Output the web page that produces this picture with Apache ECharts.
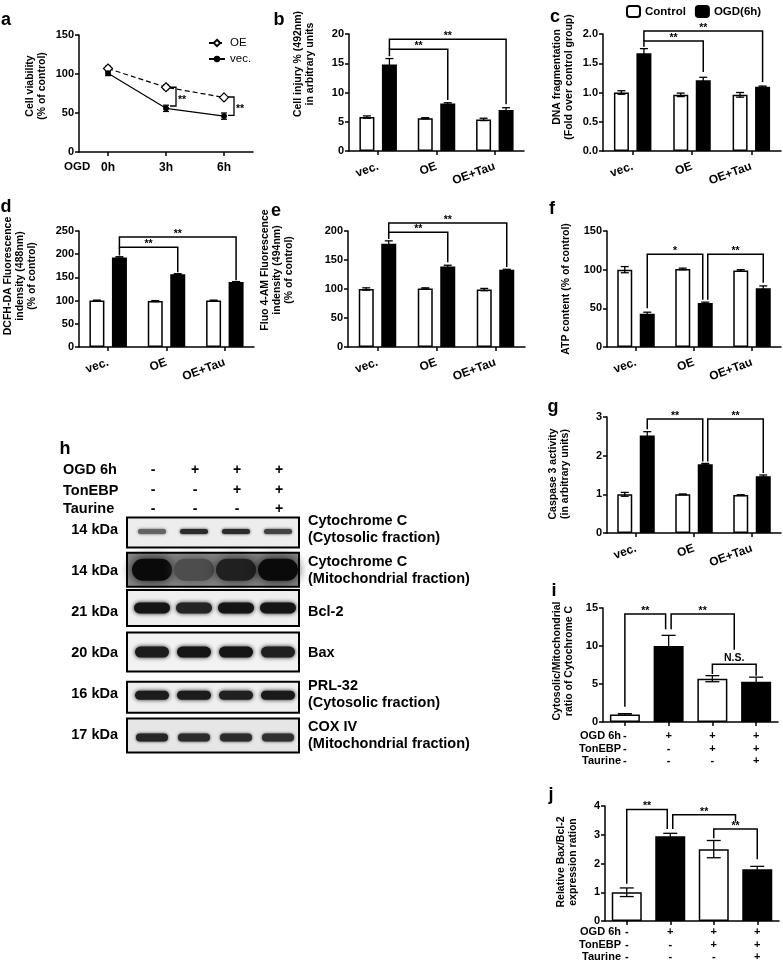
<!DOCTYPE html>
<html><head><meta charset="utf-8">
<script src="https://cdn.jsdelivr.net/npm/echarts/dist/echarts.min.js"></script>
<style>html,body{margin:0;padding:0;background:#fff}#c{width:783px;height:964px}</style>
</head><body><div id="c"></div>
<script>
// ---------------- DATA ----------------
// panel a
const aTimes = ['0h', '3h', '6h'];
const aOE = [107, 83, 70];
const aOEErr = [3, 3, 2];
const aVec = [101, 56, 46];
const aVecErr = [3, 4, 4];
const aSig = [[1, 83, 59, '**'], [2, 70.5, 47, '**']];

// panels b-g
const groups = ['vec.', 'OE', 'OE+Tau'];
const bCtrl = [5.8, 5.6, 5.4], bCtrlErr = [0.2, 0.1, 0.2];
const bOGD = [14.8, 8.1, 7.0], bOGDErr = [1.0, 0.15, 0.4];
const bSig = [[0, 'O', 1, 'O', 17.4, 16.2, 8.7, '**'], [0, 'O', 2, 'O', 19.1, 17.4, 8.0, '**']];

const cCtrl = [1.0, 0.96, 0.96], cCtrlErr = [0.03, 0.03, 0.04];
const cOGD = [1.67, 1.21, 1.10], cOGDErr = [0.08, 0.05, 0.01];
const cSig = [[0, 'O', 1, 'O', 1.88, 1.78, 1.35, '**'], [0, 'O', 2, 'O', 2.05, 1.88, 1.18, '**']];

const dCtrl = [100, 99, 100], dCtrlErr = [1, 1, 1];
const dOGD = [193, 157, 140], dOGDErr = [1.5, 1, 1];
const dSig = [[0, 'O', 1, 'O', 215, 197, 161, '**'], [0, 'O', 2, 'O', 237, 215, 144, '**']];

const eCtrl = [100, 101, 99], eCtrlErr = [2, 1, 2];
const eOGD = [178, 139, 133], eOGDErr = [5, 2, 1];
const eSig = [[0, 'O', 1, 'O', 198, 186, 146, '**'], [0, 'O', 2, 'O', 214, 198, 138, '**']];

const fCtrl = [100, 101, 99], fCtrlErr = [4, 1, 1];
const fOGD = [43, 57, 76], fOGDErr = [2, 1, 3];
const fSig = [[0, 'O', 1, 'OL', 120, 50, 61, '*'], [1, 'OR', 2, 'O', 120, 61, 83, '**']];

const gCtrl = [1.0, 1.0, 0.98], gCtrlErr = [0.05, 0.01, 0.01];
const gOGD = [2.52, 1.78, 1.47], gOGDErr = [0.1, 0.02, 0.03];
const gSig = [[0, 'O', 1, 'OL', 2.95, 2.68, 1.85, '**'], [1, 'OR', 2, 'O', 2.95, 1.85, 1.55, '**']];

// panels i, j  (rows: OGD 6h / TonEBP / Taurine)
const ijCats = ['-\n-\n-', '+\n-\n-', '+\n+\n-', '+\n+\n+'];
const iVals = [1.0, 10.0, 5.7, 5.3], iErr = [0.1, 1.4, 0.4, 0.6];
const iSig = [[0, 'M', 1, 'ML', 14.2, 2.0, 12.2, '**'], [1, 'MR', 2, 'H', 14.2, 12.2, 9.5, '**'], [2, 'M', 3, 'M', 7.6, 6.3, 6.1, 'N.S.']];
const jVals = [1.0, 2.95, 2.5, 1.8], jErr = [0.15, 0.1, 0.3, 0.1];
const jSig = [[0, 'M', 1, 'ML', 3.88, 1.3, 3.2, '**'], [1, 'MR', 2, 'H', 3.7, 3.2, 3.45, '**'], [2, 'M', 3, 'M', 3.2, 2.88, 2.15, '**']];

// panel h (western blot)
const blotLanes = ['-\n-\n-', '+\n-\n-', '+\n+\n-', '+\n+\n+'];
const blotKDa = ['14 kDa', '14 kDa', '21 kDa', '20 kDa', '16 kDa', '17 kDa'];
const blotNames = ['Cytochrome C\n(Cytosolic fraction)', 'Cytochrome C\n(Mitochondrial fraction)', 'Bcl-2', 'Bax', 'PRL-32\n(Cytosolic fraction)', 'COX IV\n(Mitochondrial fraction)'];
const blotIntensity = [
  [0.6, 0.85, 0.85, 0.75],
  [1.0, 0.7, 0.9, 1.0],
  [0.95, 0.88, 0.95, 0.95],
  [0.92, 0.95, 0.95, 0.9],
  [0.92, 0.92, 0.9, 0.93],
  [0.88, 0.85, 0.85, 0.83]
];

// ---------------- STYLE / LAYOUT ----------------
const FONT = '"Liberation Sans", Arial, Helvetica, sans-serif';
const L = {
  a: {left: 79, top: 35, width: 174, height: 117},
  b: {left: 349, top: 34, width: 175, height: 117},
  c: {left: 603, top: 34, width: 178, height: 117},
  d: {left: 79, top: 231, width: 175, height: 116},
  e: {left: 348, top: 231, width: 177, height: 116},
  f: {left: 607, top: 231, width: 174, height: 116},
  g: {left: 607, top: 417, width: 174, height: 116},
  i: {left: 603, top: 608, width: 175, height: 114},
  j: {left: 605, top: 806, width: 174, height: 115},
  h: {left: 132, top: 509, width: 168, height: 247}
};
const FRAME_H = [30, 34, 36, 39, 31, 34];
const FRAME_DY = [3, -1, -4, -1, 3, 0];
const BAND_W = [28, 40, 36, 34, 34, 32];
const BAND_H = [5, 22, 11, 11, 9, 8];
const BAND_DY = [-1, 0, 0, 0, -2, 2];
const BAND_BLUR = [3, 12, 4, 4, 4, 3];
const BLOT_BG = ['#ededed', '#8a8a8a', '#efefef', '#f2f2f2', '#efefef', '#e6e6e6'];
const BW = 15, BGAP = '50%', OFF = BW * 1.5 / 2;
const AX = {color: '#000', width: 1.5};

const grids = [], xAxes = [], yAxes = [], series = [];

function addGrid(key) {
  grids.push(Object.assign({containLabel: false, outerBoundsMode: 'none'}, L[key]));
  return grids.length - 1;
}
function addX(gi, data, opts) {
  opts = opts || {};
  xAxes.push({
    gridIndex: gi, type: 'category', data: data, boundaryGap: true,
    axisLine: {show: true, onZero: false, lineStyle: AX},
    axisTick: {show: true, alignWithLabel: true, length: 4, lineStyle: AX},
    axisLabel: {color: '#000', fontFamily: FONT, fontWeight: 'bold', fontSize: opts.fontSize || 12, interval: 0,
      margin: opts.margin != null ? opts.margin : 15, rotate: opts.rotate != null ? opts.rotate : 20,
      lineHeight: opts.lineHeight || 14},
    splitLine: {show: false}
  });
  return xAxes.length - 1;
}
function addY(gi, max, interval, fmt) {
  yAxes.push({
    gridIndex: gi, type: 'value', min: 0, max: max, interval: interval,
    axisLine: {show: true, lineStyle: AX},
    axisTick: {show: true, length: 4, lineStyle: AX},
    axisLabel: {color: '#000', fontFamily: FONT, fontWeight: 'bold', fontSize: 11, margin: 5,
      formatter: fmt || null},
    splitLine: {show: false}
  });
  return yAxes.length - 1;
}

function errRender(off, cap) {
  return function (params, api) {
    const c = api.value(0), v = api.value(1), e = api.value(2), s = api.value(3);
    const x = api.coord([c, v])[0] + s * off;
    const yT = api.coord([c, v + e])[1], yB = api.coord([c, v - e])[1];
    const st = {stroke: '#000', lineWidth: 1.3};
    return {type: 'group', children: [
      {type: 'line', shape: {x1: x, y1: yT, x2: x, y2: yB}, style: st},
      {type: 'line', shape: {x1: x - cap / 2, y1: yT, x2: x + cap / 2, y2: yT}, style: st},
      {type: 'line', shape: {x1: x - cap / 2, y1: yB, x2: x + cap / 2, y2: yB}, style: st}
    ]};
  };
}
function slotX(api, cat, slot, off) {
  const c = api.coord([cat, 0])[0];
  const band = api.size([1, 0])[0];
  return {C: c - off, O: c + off, OL: c + off - 2.5, OR: c + off + 2.5, M: c, ML: c - 3, MR: c + 2.5, H: c + band / 2}[slot];
}
function sigRender(spec, off) {
  return function (params, api) {
    const s = spec[params.dataIndex];
    const x1 = slotX(api, s[0], s[1], off), x2 = slotX(api, s[2], s[3], off);
    const yT = api.coord([s[0], s[4]])[1], y1 = api.coord([s[0], s[5]])[1], y2 = api.coord([s[0], s[6]])[1];
    const star = s[7].indexOf('*') >= 0;
    return {type: 'group', children: [
      {type: 'polyline', shape: {points: [[x1, y1], [x1, yT], [x2, yT], [x2, y2]]}, style: {stroke: '#000', lineWidth: 1.5, fill: 'none'}},
      {type: 'text', x: (x1 + x2) / 2, y: yT - (star ? 3 : 6), style: {text: s[7], align: 'center', verticalAlign: 'middle', font: 'bold 10.5px ' + FONT, fill: '#000'}}
    ]};
  };
}

function barPanel(key, ctrl, ctrlErr, ogd, ogdErr, sig, max, interval, fmt) {
  const gi = addGrid(key);
  const xi = addX(gi, groups);
  const yi = addY(gi, max, interval, fmt);
  series.push({name: 'Control', type: 'bar', xAxisIndex: xi, yAxisIndex: yi, data: ctrl, barWidth: BW, barGap: BGAP,
    itemStyle: {color: '#fff', borderColor: '#000', borderWidth: 1.5}, silent: true, z: 2});
  series.push({name: 'OGD(6h)', type: 'bar', xAxisIndex: xi, yAxisIndex: yi, data: ogd, barWidth: BW, barGap: BGAP,
    itemStyle: {color: '#000', borderColor: '#000', borderWidth: 1.5}, silent: true, z: 2});
  const ed = ctrl.map((v, i) => [i, v, ctrlErr[i], -1]).concat(ogd.map((v, i) => [i, v, ogdErr[i], 1]));
  series.push({type: 'custom', xAxisIndex: xi, yAxisIndex: yi, renderItem: errRender(OFF, 8), data: ed, z: 4, silent: true});
  series.push({type: 'custom', xAxisIndex: xi, yAxisIndex: yi, renderItem: sigRender(sig, OFF), data: sig.map(s => [s[0], s[4]]), z: 4, silent: true});
}

function singlePanel(key, vals, errs, sig, max, interval, margin) {
  const gi = addGrid(key);
  const xi = addX(gi, ijCats, {rotate: 0, margin: margin, lineHeight: 12.5, fontSize: 11});
  const yi = addY(gi, max, interval);
  series.push({type: 'bar', xAxisIndex: xi, yAxisIndex: yi, barWidth: 30,
    data: vals.map((v, i) => ({value: v, itemStyle: {color: i % 2 ? '#000' : '#fff', borderColor: '#000', borderWidth: 1.5}})),
    silent: true, z: 2});
  series.push({type: 'custom', xAxisIndex: xi, yAxisIndex: yi, renderItem: errRender(0, 14),
    data: vals.map((v, i) => [i, v, errs[i], 0]), z: 4, silent: true});
  series.push({type: 'custom', xAxisIndex: xi, yAxisIndex: yi, renderItem: sigRender(sig, 0), data: sig.map(s => [s[0], s[4]]), z: 4, silent: true});
}

// ---- panel a ----
(function () {
  const gi = addGrid('a');
  const xi = addX(gi, aTimes, {rotate: 0, margin: 9});
  const yi = addY(gi, 150, 50);
  series.push({type: 'custom', xAxisIndex: xi, yAxisIndex: yi, renderItem: errRender(0, 6),
    data: aOE.map((v, i) => [i, v, aOEErr[i], 0]).concat(aVec.map((v, i) => [i, v, aVecErr[i], 0])), z: 1, silent: true});
  series.push({name: 'OE', type: 'line', xAxisIndex: xi, yAxisIndex: yi, data: aOE, symbol: 'diamond', symbolSize: 9,
    lineStyle: {color: '#000', width: 1.2, type: [5, 3]}, itemStyle: {color: '#fff', borderColor: '#000', borderWidth: 1.2}, z: 3});
  series.push({name: 'vec.', type: 'line', xAxisIndex: xi, yAxisIndex: yi, data: aVec, symbol: 'circle', symbolSize: 5,
    lineStyle: {color: '#000', width: 1.2}, itemStyle: {color: '#000', borderColor: '#000'}, z: 3});
  series.push({type: 'custom', xAxisIndex: xi, yAxisIndex: yi, data: aSig.map(s => [s[0], s[1]]), z: 4, silent: true,
    renderItem: function (params, api) {
      const s = aSig[params.dataIndex];
      const p = api.coord([s[0], s[1]]);
      const yB = api.coord([s[0], s[2]])[1];
      const x = p[0] + 10;
      return {type: 'group', children: [
        {type: 'polyline', shape: {points: [[p[0] + 4, p[1]], [x, p[1]], [x, yB], [p[0] + 4, yB]]}, style: {stroke: '#000', lineWidth: 1.3, fill: 'none'}},
        {type: 'text', x: x + 2, y: (p[1] + yB) / 2 + 3, style: {text: s[3], align: 'left', verticalAlign: 'middle', font: 'bold 10.5px ' + FONT, fill: '#000'}}
      ]};
    }});
})();

barPanel('b', bCtrl, bCtrlErr, bOGD, bOGDErr, bSig, 20, 5);
barPanel('c', cCtrl, cCtrlErr, cOGD, cOGDErr, cSig, 2, 0.5, v => v.toFixed(1));
barPanel('d', dCtrl, dCtrlErr, dOGD, dOGDErr, dSig, 250, 50);
barPanel('e', eCtrl, eCtrlErr, eOGD, eOGDErr, eSig, 200, 50);
barPanel('f', fCtrl, fCtrlErr, fOGD, fOGDErr, fSig, 150, 50);
barPanel('g', gCtrl, gCtrlErr, gOGD, gOGDErr, gSig, 3, 1);
singlePanel('i', iVals, iErr, iSig, 15, 5, 8);
singlePanel('j', jVals, jErr, jSig, 4, 1, 5);

// ---- panel h (blot) ----
(function () {
  const gi = addGrid('h');
  xAxes.push({gridIndex: gi, type: 'category', data: blotLanes, position: 'top',
    axisLine: {show: false}, axisTick: {show: false}, splitLine: {show: false},
    axisLabel: {color: '#000', fontFamily: FONT, fontWeight: 'bold', fontSize: 14, lineHeight: 19.5, margin: -10, interval: 0}});
  const xi = xAxes.length - 1;
  yAxes.push({gridIndex: gi, type: 'category', data: blotKDa, inverse: true,
    axisLine: {show: false}, axisTick: {show: false}, splitLine: {show: false},
    axisLabel: {color: '#000', fontFamily: FONT, fontWeight: 'bold', fontSize: 14.5, margin: 14, interval: 0}});
  const yi = yAxes.length - 1;
  yAxes.push({gridIndex: gi, type: 'category', data: blotNames, inverse: true, position: 'right',
    axisLine: {show: false}, axisTick: {show: false}, splitLine: {show: false},
    axisLabel: {color: '#000', fontFamily: FONT, fontWeight: 'bold', fontSize: 14.5, margin: 8, interval: 0, lineHeight: 17, align: 'left'}});
  const gray = I => { const g = Math.round(232 - 222 * I); return 'rgb(' + g + ',' + g + ',' + g + ')'; };
  series.push({type: 'custom', xAxisIndex: xi, yAxisIndex: yi, silent: true, z: 2,
    data: blotIntensity.map((row, b) => [0, b].concat(row)),
    renderItem: function (params, api) {
      const b = api.value(1);
      const cs = params.coordSys;
      const cy = api.coord([0, b])[1] + FRAME_DY[b];
      const fh = FRAME_H[b];
      const frame = {x: cs.x - 5, y: cy - fh / 2, width: cs.width + 4, height: fh};
      const ch = [{type: 'rect', shape: frame, style: {fill: BLOT_BG[b]}}];
      for (let l = 0; l < 4; l++) {
        const I = api.value(2 + l);
        const x = api.coord([l, b])[0] - 1;
        const w = BAND_W[b], h = BAND_H[b];
        const col = gray(I);
        ch.push({type: 'rect', shape: {x: x - w / 2, y: cy + BAND_DY[b] - h / 2, width: w, height: h, r: h / 2},
          style: {fill: col, shadowBlur: BAND_BLUR[b], shadowColor: col}});
      }
      ch.push({type: 'rect', shape: frame, style: {fill: 'none', stroke: '#000', lineWidth: 2}});
      return {type: 'group', children: ch};
    }});
})();

// ---------------- TEXT ----------------
function letter(t, x, y) {
  return {type: 'text', x: x, y: y, style: {text: t, align: 'center', verticalAlign: 'middle', font: 'bold 18px ' + FONT, fill: '#000'}};
}
function ytitle(t, x, y) {
  return {type: 'text', x: x, y: y, rotation: Math.PI / 2,
    style: {text: t, align: 'center', verticalAlign: 'middle', font: 'bold 10.5px ' + FONT, lineHeight: 12, fill: '#000'}};
}
function txt(t, x, y, size, align, va, lh) {
  return {type: 'text', x: x, y: y, style: {text: t, align: align || 'left', verticalAlign: va || 'middle', font: 'bold ' + size + 'px ' + FONT, lineHeight: lh || size * 1.2, fill: '#000'}};
}
const graphics = [
  letter('a', 6, 20), letter('b', 279, 20), letter('c', 555, 17), letter('d', 6, 207), letter('e', 276, 211),
  letter('f', 552, 209), letter('g', 553, 407), letter('h', 65, 449), letter('i', 554, 591), letter('j', 551, 795),
  ytitle('Cell viability\n(% of control)', 36, 86),
  ytitle('Cell injury % (492nm)\nin arbitrary units', 304, 64),
  ytitle('DNA fragmentation\n(Fold over control group)', 563, 77),
  ytitle('DCFH-DA Fluorescence\nindensity (488nm)\n(% of control)', 20, 276),
  ytitle('Fluo 4-AM Fluorescence\nindensity (494nm)\n(% of control)', 277, 270),
  ytitle('ATP content (% of control)', 566, 289),
  ytitle('Caspase 3 activity\n(in arbitrary units)', 559, 474),
  ytitle('Cytosolic/Mitochondrial\nratio of Cytochrome C', 563, 661),
  ytitle('Relative Bax/Bcl-2\nexpression ration', 567, 862),
  txt('OGD', 64, 167, 11.5),
  txt('OGD 6h', 63, 470, 14.5), txt('TonEBP', 63, 491, 14.5), txt('Taurine', 63, 509, 14.5),
  txt('OGD 6h\nTonEBP\nTaurine', 621, 730, 11, 'right', 'top', 12.5),
  txt('OGD 6h\nTonEBP\nTaurine', 621, 926, 11, 'right', 'top', 12.5)
];

const chart = echarts.init(document.getElementById('c'), null, {renderer: 'canvas', width: 783, height: 964});
chart.setOption({
  animation: false,
  backgroundColor: '#fff',
  textStyle: {fontFamily: FONT},
  legend: [
    {data: ['OE', 'vec.'], left: 208, top: 37, orient: 'vertical', itemGap: 4, itemWidth: 16, itemHeight: 8, padding: 0,
      textStyle: {color: '#000', fontFamily: FONT, fontSize: 11.5}},
    {data: ['Control', 'OGD(6h)'], left: 626, top: 5, orient: 'horizontal', itemGap: 9, itemWidth: 13, itemHeight: 11, padding: 0,
      textStyle: {color: '#000', fontFamily: FONT, fontSize: 11.5, fontWeight: 'bold'}}
  ],
  grid: grids,
  xAxis: xAxes,
  yAxis: yAxes,
  series: series,
  graphic: graphics
});
</script></body></html>
